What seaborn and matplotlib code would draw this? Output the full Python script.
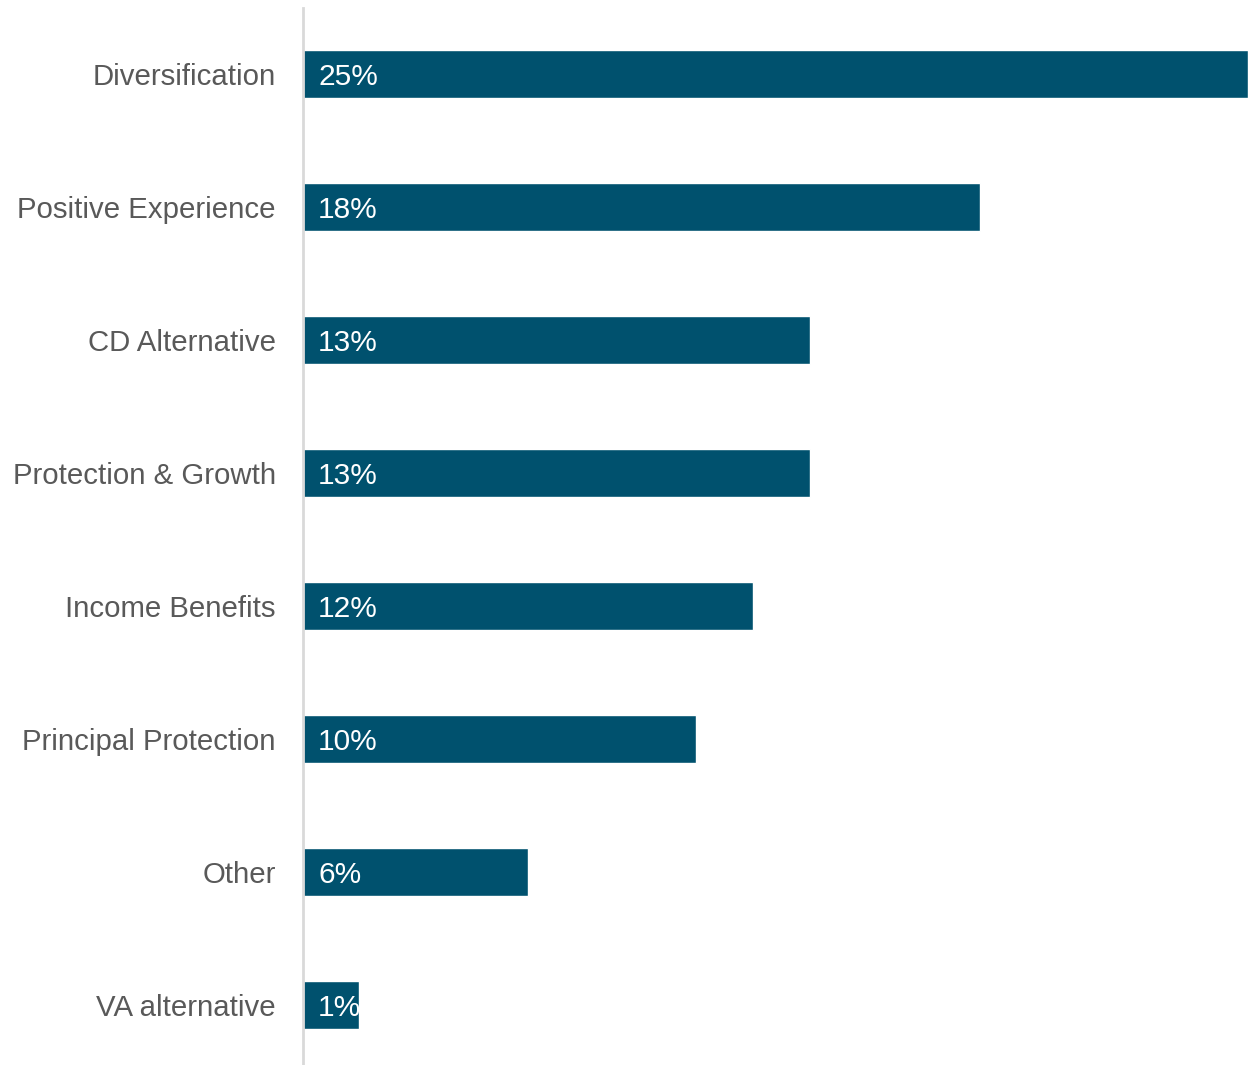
import matplotlib
matplotlib.use("Agg")
import matplotlib.pyplot as plt
import seaborn as sns
import pandas as pd

categories = ["Diversification", "Positive Experience", "CD Alternative",
              "Protection & Growth", "Income Benefits", "Principal Protection",
              "Other", "VA alternative"]
shares = [25.0, 17.9, 13.4, 13.4, 11.9, 10.4, 5.95, 1.48]

df = pd.DataFrame({"reason": categories, "share": shares})

sns.set_theme(style="white")
plt.rcParams["font.family"] = ["Liberation Sans", "DejaVu Sans"]

fig = plt.figure(figsize=(12.48, 10.65), dpi=100)
ax = fig.add_axes([303 / 1248, -6.5 / 1065, 945 / 1248, 1064 / 1065])

sns.barplot(data=df, x="share", y="reason", orient="h", color="#00516E",
            saturation=1, width=0.36, ax=ax)

ax.set_xlim(0, 25)
ax.set_ylim(len(categories) - 0.5, -0.5)

for bar, v in zip(ax.patches, shares):
    y = bar.get_y() + bar.get_height() / 2
    t = ax.text(0.4, y, f"{v:.0f}%", color="white", fontsize=21.5,
                va="center_baseline", ha="left")
    t.set_clip_path(bar)

ax.set_xlabel("")
ax.set_ylabel("")
ax.set_xticks([])
ax.tick_params(axis="y", length=0, pad=19.5, labelsize=21.2, labelcolor="#595959")
for lbl in ax.get_yticklabels():
    lbl.set_verticalalignment("center_baseline")
for s in ["top", "right", "bottom"]:
    ax.spines[s].set_visible(False)
ax.spines["left"].set_color("#D9D9D9")
ax.spines["left"].set_linewidth(2)
ax.spines["left"].set_bounds(len(categories) - 0.5, -0.5)

fig.savefig("out.png", dpi=100)
